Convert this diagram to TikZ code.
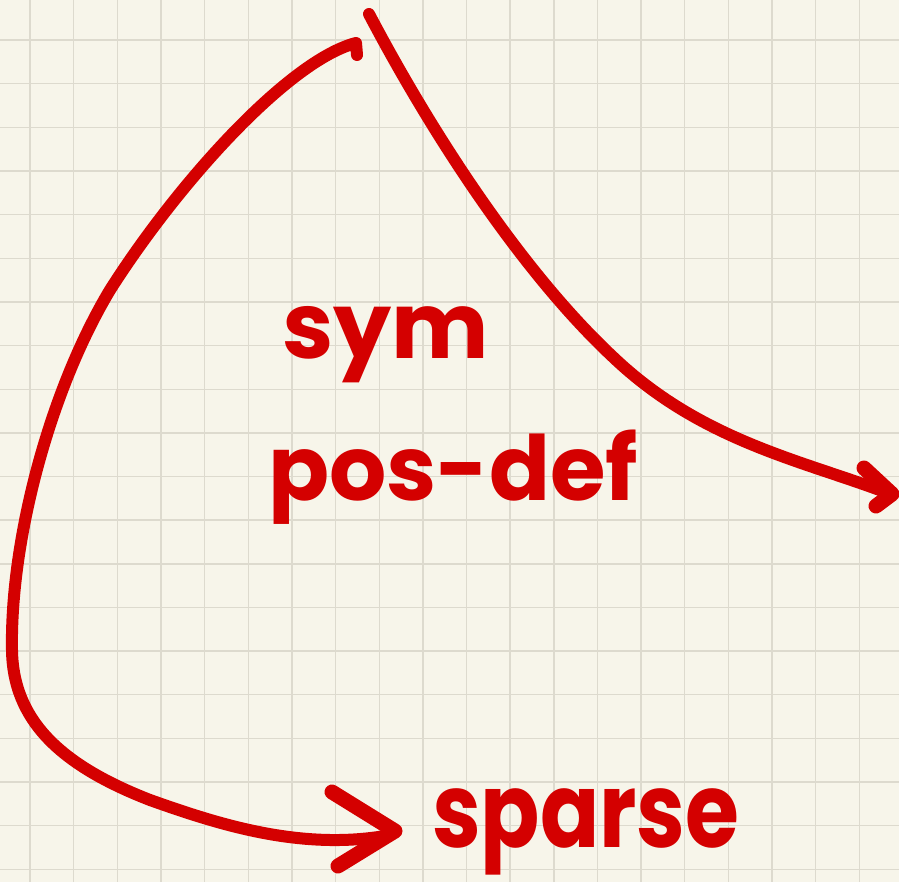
\documentclass[tikz,border=0pt]{standalone}
\usepackage{fontspec}
\setmainfont{Poppins}
\definecolor{paper}{HTML}{F7F5EA}
\definecolor{gridc}{HTML}{DDDACE}
\definecolor{ink}{HTML}{D40000}
\tikzset{
  pen/.style={draw=ink, line width=12pt, line cap=round, line join=round},
  tippen/.style={draw=ink, line width=15pt, line cap=round, line join=round},
  hand/.style={text=ink, inner sep=0pt, font=\bfseries}
}
\begin{document}
\begin{tikzpicture}[x=1pt,y=-1pt]
\fill[paper] (0,0) rectangle (899,882);
\useasboundingbox (0,0) rectangle (899,882);
\foreach \k in {0,...,19} {
  \draw[gridc, line width=1.4pt] ({30+43.65*\k},0) -- ({30+43.65*\k},882);
  \draw[gridc, line width=1.4pt] (0,{40+43.65*\k}) -- (899,{40+43.65*\k});
}
% left curve (to sparse)
\coordinate (ls) at (356,43);
\coordinate (lt) at (395,831);
\draw[pen] (357,55) -- (ls)
  .. controls (290,60) and (180,180) .. (110,290)
  .. controls (50,390) and (10,540) .. (12,650)
  .. controls (13,720) and (60,765) .. (150,800)
  .. controls (220,825) and (300,850) .. (385,836);
\draw[tippen] (332,792) -- (lt) -- (338,866);
% right curve
\coordinate (rs) at (369,14);
\coordinate (rt) at (892,494);
\draw[pen] (rs)
  .. controls (430,130) and (520,270) .. (613,357)
  .. controls (700,440) and (800,460) .. (885,492);
\draw[tippen] (864,468) -- (rt) -- (876,506);
% texts
\node[hand, font=\bfseries\fontsize{92}{92}\selectfont, anchor=base west] (sym) at (282,358) {sym};
\node[hand, font=\bfseries\fontsize{90}{90}\selectfont, anchor=base west] (pd) at (268,500) {pos-def};
\node[hand, font=\bfseries\fontsize{104}{104}\selectfont, anchor=base west, xscale=0.84] (sp) at (432,847) {sparse};
\end{tikzpicture}
\end{document}
